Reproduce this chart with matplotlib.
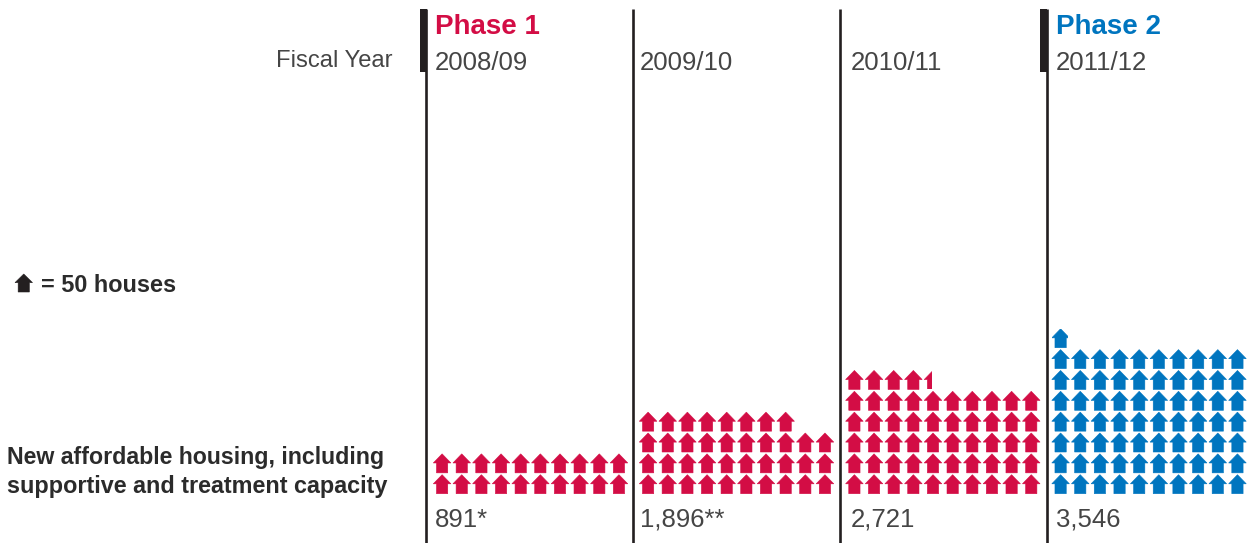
import numpy as np
import matplotlib
matplotlib.use('Agg')
import matplotlib.pyplot as plt
from matplotlib.patches import Rectangle

plt.rcParams['font.family'] = ['Liberation Sans', 'DejaVu Sans']

years = ['2008/09', '2009/10', '2010/11', '2011/12']
value_labels = ['891*', '1,896**', '2,721', '3,546']
house_counts = [20, 38, 54.42, 70.92]  # 1 icon = 50 houses, fractions are cut icons
phases = ['Phase 1', None, None, 'Phase 2']

RED = '#d30d45'
BLUE = '#0075bf'
DARK = '#231f20'
GREY = '#454545'

# outline of one icon, unit box
house_x = np.array([0.5, 1.0, 0.82, 0.82, 0.18, 0.18, 0.0])
house_y = np.array([1.0, 0.52, 0.52, 0.0, 0.0, 0.52, 0.52])


def draw_house(ax, left, bottom, w, h, color, frac=1.0):
    patch = ax.fill(left + house_x * w, bottom - house_y * h, facecolor=color,
                    edgecolor=color, lw=0.4)[0]
    if frac < 1:
        patch.set_clip_path(Rectangle((left, bottom - h), w * frac, h, transform=ax.transData))


fig = plt.figure(figsize=(12.47, 5.43), dpi=100)
ax = fig.add_axes([0, 0, 1, 1])
ax.set_xlim(0, 1247)
ax.set_ylim(543, 0)
ax.axis('off')

col_x = [426.0, 632.6, 839.6, 1046.6]
house_left = [433.3, 639.3, 845.6, 1051.8]
text_x = [435, 640, 850.5, 1056]
house_w, house_h = 17.6, 19
step_x, step_y = 19.65, 20.85
per_row = 10

for i, count in enumerate(house_counts):
    x0 = col_x[i]
    ax.plot([x0, x0], [9, 543], color=DARK, lw=1.9, solid_capstyle='butt')
    color = RED if i < 3 else BLUE
    if phases[i]:
        ax.add_patch(Rectangle((x0 - 6.2, 9), 6.8, 63, color=DARK, lw=0))
        ax.text(text_x[i], 34.5, phases[i], color=color, fontsize=20,
                fontweight='bold', ha='left', va='baseline')
    ax.text(text_x[i], 70, years[i], color=GREY, fontsize=18.5, ha='left', va='baseline')
    ax.text(text_x[i], 527, value_labels[i], color=GREY, fontsize=18.5, ha='left', va='baseline')

    whole = int(np.floor(count))
    frac = count - whole
    for n in range(whole + (1 if frac > 0 else 0)):
        row, col = divmod(n, per_row)
        draw_house(ax, house_left[i] + col * step_x, 493.7 - row * step_y, house_w, house_h,
                   color, frac if n == whole else 1.0)

ax.text(393, 67, 'Fiscal Year', color=GREY, fontsize=17.1, ha='right', va='baseline')

draw_house(ax, 15, 292, 17.5, 18, DARK)
ax.text(41, 292.5, '= 50 houses', color='#2b2b2b', fontsize=16.9, fontweight='bold',
        ha='left', va='baseline')

ax.text(7, 464, 'New affordable housing, including', color='#2b2b2b', fontsize=16.7,
        fontweight='bold', ha='left', va='baseline')
ax.text(7, 493, 'supportive and treatment capacity', color='#2b2b2b', fontsize=16.8,
        fontweight='bold', ha='left', va='baseline')

fig.savefig('out.png', dpi=100)
